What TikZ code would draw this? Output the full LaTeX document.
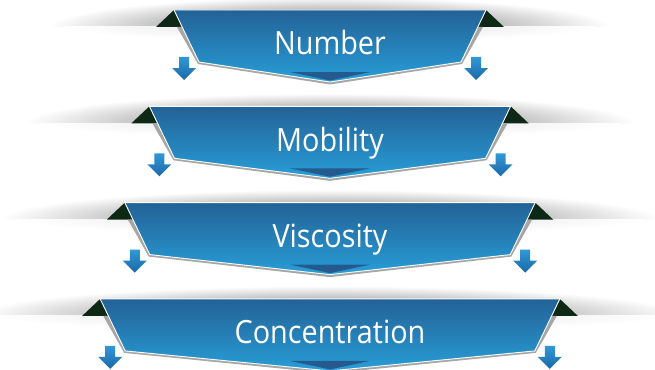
\documentclass[tikz,border=0pt]{standalone}
\usepackage{fontspec}
\newfontfamily\bandfont[FakeStretch=0.9]{Open Sans}
\definecolor{bandtop}{RGB}{35,98,150}
\definecolor{bandbot}{RGB}{40,158,216}
\definecolor{bandtip}{RGB}{36,90,142}
\definecolor{folddark}{RGB}{14,40,22}
\definecolor{arrowtop}{RGB}{48,152,214}
\definecolor{arrowbot}{RGB}{28,104,168}

\begin{document}
\begin{tikzpicture}[x=1pt,y=-1pt]
\useasboundingbox (0,0) rectangle (655,369);
\clip (0,0) rectangle (655,369);
\foreach \i/\name/\word in {0/num/Number,1/mob/Mobility,2/vis/Viscosity,3/con/Concentration}{
  \pgfmathsetmacro\ty{10+96.3*\i}
  \pgfmathsetmacro\lx{174-24.6*\i}
  \pgfmathsetmacro\rx{660-\lx}
  \begin{scope}
    \clip (0,\ty-40) rectangle (655,\ty+17);
    \shade[inner color=black!62, outer color=white] (330,\ty+17) ellipse [x radius=\rx-330+125, y radius=30];
  \end{scope}
  \begin{scope}
    \clip (0,\ty+17) rectangle (655,\ty+40);
    \shade[inner color=black!12, outer color=white] (330,\ty+17) ellipse [x radius=\rx-330+110, y radius=14];
  \end{scope}
  \fill[folddark] (\lx-18,\ty+17) -- (\lx,\ty) -- (\lx+8.2,\ty+17) -- cycle;
  \fill[folddark] (\rx+18,\ty+17) -- (\rx,\ty) -- (\rx-8.2,\ty+17) -- cycle;
  \fill[black!35] (\lx+3,\ty+17) -- (\lx+24,\ty+54) -- (330,\ty+74.5) -- (\rx-24,\ty+54) -- (\rx-3,\ty+17) -- cycle;
  \shade[top color=bandtop, bottom color=bandbot, draw=white, line width=0.9pt]
    (\lx,\ty) -- (\rx,\ty) -- (\rx-25,\ty+52) -- (330,\ty+72) -- (\lx+25,\ty+52) -- cycle;
  \fill[bandtip] (290,\ty+62) -- (370,\ty+62) -- (330,\ty+70.5) -- cycle;
  \foreach \ax in {\lx+10,\rx-10}{
    \shade[top color=arrowtop, bottom color=arrowbot]
      (\ax-5,\ty+47) -- (\ax+5,\ty+47) -- (\ax+5,\ty+58) -- (\ax+12,\ty+58) -- (\ax,\ty+70) -- (\ax-12,\ty+58) -- (\ax-5,\ty+58) -- cycle;
  }
  \node[text=white, font=\bandfont\fontsize{32}{32}\selectfont, anchor=base, inner sep=0pt] (\name) at (330,\ty+45) {\word};
}
\end{tikzpicture}
\end{document}
